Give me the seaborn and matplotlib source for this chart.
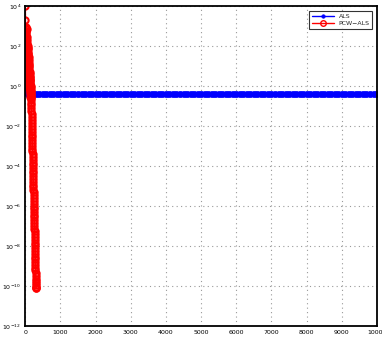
import matplotlib
matplotlib.use("Agg")
import matplotlib.pyplot as plt
import seaborn as sns
import pandas as pd
from matplotlib.ticker import NullLocator

# ---- data ----
als_iter = [0, 10, 20, 30, 40, 50, 60, 70, 80, 90, 100,
            200, 300, 400, 500, 600, 700, 800, 900, 1000,
            1100, 1200, 1300, 1400, 1500, 1600, 1700, 1800, 1900, 2000,
            2100, 2200, 2300, 2400, 2500, 2600, 2700, 2800, 2900, 3000,
            3100, 3200, 3300, 3400, 3500, 3600, 3700, 3800, 3900, 4000,
            4100, 4200, 4300, 4400, 4500, 4600, 4700, 4800, 4900, 5000,
            5100, 5200, 5300, 5400, 5500, 5600, 5700, 5800, 5900, 6000,
            6100, 6200, 6300, 6400, 6500, 6600, 6700, 6800, 6900, 7000,
            7100, 7200, 7300, 7400, 7500, 7600, 7700, 7800, 7900, 8000,
            8100, 8200, 8300, 8400, 8500, 8600, 8700, 8800, 8900, 9000,
            9100, 9200, 9300, 9400, 9500, 9600, 9700, 9800, 9900, 10000]
als_err = [20, 12, 8, 5, 3, 1.5, 0.8, 0.5, 0.42, 0.41, 0.40,
           0.40, 0.40, 0.40, 0.40, 0.40, 0.40, 0.40, 0.40, 0.40,
           0.40, 0.40, 0.40, 0.40, 0.40, 0.40, 0.40, 0.40, 0.40, 0.40,
           0.40, 0.40, 0.40, 0.40, 0.40, 0.40, 0.40, 0.40, 0.40, 0.40,
           0.40, 0.40, 0.40, 0.40, 0.40, 0.40, 0.40, 0.40, 0.40, 0.40,
           0.40, 0.40, 0.40, 0.40, 0.40, 0.40, 0.40, 0.40, 0.40, 0.40,
           0.40, 0.40, 0.40, 0.40, 0.40, 0.40, 0.40, 0.40, 0.40, 0.40,
           0.40, 0.40, 0.40, 0.40, 0.40, 0.40, 0.40, 0.40, 0.40, 0.40,
           0.40, 0.40, 0.40, 0.40, 0.40, 0.40, 0.40, 0.40, 0.40, 0.40,
           0.40, 0.40, 0.40, 0.40, 0.40, 0.40, 0.40, 0.40, 0.40, 0.40,
           0.40, 0.40, 0.40, 0.40, 0.40, 0.40, 0.40, 0.40, 0.40, 0.40]

pcw_iter = [0, 2, 4, 6, 8, 10, 12, 14, 16, 18,
            20, 22, 24, 26, 28, 30, 32, 34, 36, 38,
            40, 42, 44, 46, 48, 50, 52, 54, 56, 58,
            60, 62, 64, 66, 68, 70, 72, 74, 76, 78,
            80, 82, 84, 86, 88, 90, 92, 94, 96, 98,
            100, 102, 104, 106, 108, 110, 112, 114, 116, 118,
            120, 122, 124, 126, 128, 130, 132, 134, 136, 138,
            140, 142, 144, 146, 148, 150, 152, 154, 156, 158,
            160, 162, 164, 166, 168, 170, 172, 174, 176, 178,
            180, 182, 184, 186, 188, 190, 192, 194, 196, 198,
            200, 202, 204, 206, 208, 210, 212, 214, 216, 218,
            220, 222, 224, 226, 228, 230, 232, 234, 236, 238,
            240, 242, 244, 246, 248, 250, 252, 254, 256, 258,
            260, 262, 264, 266, 268, 270, 272, 274, 276, 278,
            280, 282, 284, 286, 288, 290, 292, 294, 296, 298,
            300, 302, 304, 306, 308, 310]
pcw_err = [1e4, 2000, 300, 800, 100, 500, 50, 900, 200, 30,
           600, 80, 300, 20, 400, 60, 150, 10, 250, 40,
           700, 15, 120, 35, 300, 8, 90, 200, 25, 60,
           5, 150, 20, 80, 3, 40, 100, 12, 50, 2,
           30, 70, 6, 25, 1.5, 40, 10, 3, 20, 1,
           15, 4, 30, 2, 8, 0.8, 12, 3, 6, 1,
           10, 2, 0.6, 5, 1.5, 3, 0.5, 4, 1, 2,
           0.4, 3, 0.8, 1.5, 0.3, 2, 0.6, 1, 0.3, 0.8,
           0.4, 0.6, 0.25, 0.4, 0.2, 0.3, 0.15, 0.12, 0.08, 0.06,
           4e-2, 3e-2, 2e-2, 1.5e-2, 1e-2, 7e-3, 5e-3, 3.8e-3, 2.7e-3, 2e-3,
           1.4e-3, 1e-3, 7.5e-4, 5.5e-4, 4e-4, 3e-4, 2.1e-4, 1.5e-4, 1.1e-4, 8e-5,
           6e-5, 4.3e-5, 3.1e-5, 2.3e-5, 1.7e-5, 1.2e-5, 9e-6, 6.5e-6, 4.8e-6, 3.5e-6,
           2.5e-6, 1.8e-6, 1.3e-6, 9.5e-7, 7e-7, 5e-7, 3.7e-7, 2.7e-7, 2e-7, 1.4e-7,
           1e-7, 7.5e-8, 5.5e-8, 4e-8, 2.9e-8, 2.1e-8, 1.5e-8, 1.1e-8, 8e-9, 5.8e-9,
           4.2e-9, 3e-9, 2.2e-9, 1.6e-9, 1.2e-9, 8.5e-10, 6.2e-10, 4.5e-10, 3.3e-10, 2.4e-10,
           1.8e-10, 1.4e-10, 1.1e-10, 9.5e-11, 8.5e-11, 8e-11]

y_ticks = [1e-12, 1e-10, 1e-8, 1e-6, 1e-4, 1e-2, 1e0, 1e2, 1e4]
y_labels = [r"$10^{-12}$", r"$10^{-10}$", r"$10^{-8}$", r"$10^{-6}$",
            r"$10^{-4}$", r"$10^{-2}$", r"$10^{0}$", r"$10^{2}$", r"$10^{4}$"]
x_ticks = [0, 1000, 2000, 3000, 4000, 5000, 6000, 7000, 8000, 9000, 10000]
x_labels = ["0", "1000", "2000", "3000", "4000", "5000", "6000", "7000",
            "8000", "9000", "10000"]

df_als = pd.DataFrame({"iter": als_iter, "err": als_err})
df_pcw = pd.DataFrame({"iter": pcw_iter, "err": pcw_err})

sns.set_style("white")
plt.rcParams["font.family"] = ["DejaVu Sans"]

fig = plt.figure(figsize=(3.82, 3.39), dpi=100)
ax = fig.add_axes([0.066, 0.038, 0.921, 0.944])

sns.lineplot(data=df_als, x="iter", y="err", ax=ax, color="blue",
             marker="o", markersize=4.5, markerfacecolor="blue",
             markeredgecolor="blue", markeredgewidth=0.5, linewidth=2.0,
             label="ALS", estimator=None, sort=False)
sns.lineplot(data=df_pcw, x="iter", y="err", ax=ax, color="red",
             marker="o", markersize=4.5, markerfacecolor="none",
             markeredgecolor="red", markeredgewidth=1.5, linewidth=1.2,
             label="PCW\u2212ALS", estimator=None, sort=False)

ax.set_yscale("log")
ax.set_xlim(0, 10000)
ax.set_ylim(1e-12, 1e4)
ax.set_yticks(y_ticks)
ax.set_yticklabels(y_labels)
ax.yaxis.set_minor_locator(NullLocator())
ax.set_xticks(x_ticks)
ax.set_xticklabels(x_labels)
ax.set_xlabel("")
ax.set_ylabel("")
ax.tick_params(axis="both", labelsize=4.5, direction="in", length=3,
               width=0.8, pad=3, colors="black")
ax.grid(True, which="major", linestyle=(0, (1, 3)), color="#9a9a9a",
        linewidth=0.8)
for s in ax.spines.values():
    s.set_color("black")
    s.set_linewidth(1.3)

leg = ax.legend(loc="upper right", fontsize=4.5, frameon=True, fancybox=False,
                edgecolor="black", borderpad=0.4, handlelength=3.5,
                labelspacing=0.3, borderaxespad=0.8)
leg.get_frame().set_linewidth(0.8)
lh = leg.get_lines()
lh[0].set_marker(".")
lh[0].set_markersize(5)
lh[0].set_linewidth(1.0)
lh[1].set_markersize(4)
lh[1].set_markeredgewidth(1.0)
lh[1].set_linewidth(1.0)

fig.savefig("out.png", dpi=100)
